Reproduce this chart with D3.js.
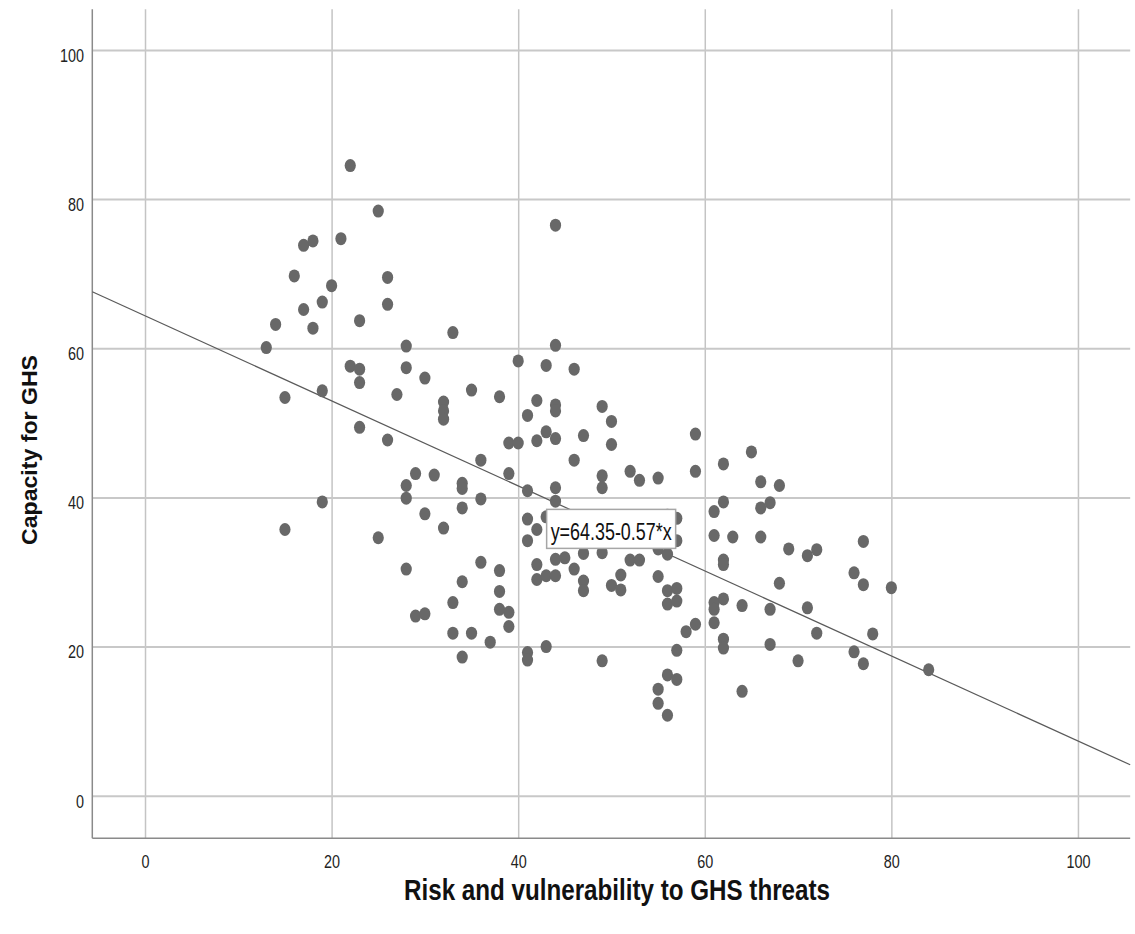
<!DOCTYPE html>
<html><head><meta charset="utf-8">
<script src="https://cdn.jsdelivr.net/npm/d3@7"></script>
<style>body{margin:0;background:#fff}</style>
</head><body><svg id="c" width="1135" height="934"></svg>
<script>
const risk = [22,25,17,18,21,16,26,20,19,17,26,14,18,23,33,13,28,22,23,28,23,30,19,15,27,32,32,32,35,23,26,29,31,28,34,34,28,19,30,34,15,25,32,28,34,33,29,30,33,35,34,
44,44,40,43,46,38,42,44,44,49,50,41,43,44,42,39,40,47,50,36,46,39,49,49,41,44,44,36,41,42,41,36,38,42,44,45,47,49,46,42,43,44,47,47,50,51,38,38,39,39,37,41,41,43,49,
59,65,62,59,52,53,55,66,68,62,61,66,67,57,61,63,66,57,62,62,55,56,52,53,51,55,56,57,56,57,68,61,62,61,64,67,59,58,61,62,62,67,57,56,57,55,55,56,64,
69,71,72,77,76,77,80,71,72,78,70,76,77,84,56,43];
const capacity = [84.5,78.4,73.8,74.4,74.7,69.7,69.5,68.4,66.2,65.2,65.9,63.2,62.7,63.7,62.1,60.1,60.3,57.6,57.2,57.4,55.4,56.0,54.3,53.4,53.8,52.8,51.6,50.5,54.4,49.4,47.7,43.2,43.0,41.6,41.9,41.2,39.9,39.4,37.8,38.6,35.7,34.6,35.9,30.4,28.7,25.9,24.1,24.4,21.8,21.8,18.6,
76.5,60.4,58.3,57.7,57.2,53.5,53.0,52.4,51.6,52.2,50.2,51.0,48.8,47.9,47.6,47.3,47.3,48.3,47.1,45.0,45.0,43.2,42.9,41.3,40.9,41.3,39.5,39.8,37.1,35.7,34.2,31.3,30.2,31.0,31.7,31.9,32.5,32.6,30.4,29.0,29.5,29.5,28.8,27.5,28.2,29.6,27.4,25.0,24.6,22.7,20.6,19.2,18.2,20.0,18.1,
48.5,46.1,44.5,43.5,43.5,42.3,42.6,42.1,41.6,39.4,38.1,38.6,39.3,37.2,34.9,34.7,34.7,34.2,31.6,31.0,33.1,32.4,31.6,31.6,27.6,29.4,27.5,27.8,25.7,26.1,28.5,25.9,26.4,25.0,25.5,25.0,23.0,22.0,23.2,21.0,19.8,20.3,19.5,16.2,15.6,14.3,12.4,10.8,14.0,
33.1,32.2,33.0,34.1,29.9,28.3,27.9,25.2,21.8,21.7,18.1,19.3,17.7,16.9,37.6,37.4];
const xTicks = [0,20,40,60,80,100];
const yTicks = [0,20,40,60,80,100];
const fitIntercept = 64.35, fitSlope = -0.57;
const fitLabel = "y=64.35-0.57*x";
const xTitle = "Risk and vulnerability to GHS threats";
const yTitle = "Capacity for GHS";
const labelAnchor = [43.05, 38.4];

const FONT = "'Liberation Sans', Arial, sans-serif";
const m = {left:92.3, right:1130.2, top:9.3, bottom:838.3};
const x = d3.scaleLinear().domain([-5.65,105.6]).range([m.left,m.right]);
const y = d3.scaleLinear().domain([-5.7,105.45]).range([m.bottom,m.top]);
const svg = d3.select("#c");

// grid
const gx = svg.append("g").attr("transform",`translate(0,${m.bottom})`)
  .call(d3.axisBottom(x).tickValues(xTicks).tickSize(-(m.bottom-m.top)).tickFormat(""));
gx.select(".domain").remove();
gx.selectAll("line").attr("stroke","#c4c4c4").attr("stroke-width",1.5);
const gy = svg.append("g").attr("transform",`translate(${m.left},0)`)
  .call(d3.axisLeft(y).tickValues(yTicks).tickSize(-(m.right-m.left)).tickFormat(""));
gy.select(".domain").remove();
gy.selectAll("line").attr("stroke","#c8c8c8").attr("stroke-width",2);

// axis lines
svg.append("line").attr("x1",m.left).attr("x2",m.left).attr("y1",m.top).attr("y2",m.bottom)
  .attr("stroke","#8a8a8a").attr("stroke-width",1.5);
svg.append("line").attr("x1",m.left).attr("x2",m.right).attr("y1",m.bottom).attr("y2",m.bottom)
  .attr("stroke","#8a8a8a").attr("stroke-width",1.5);

// tick labels
const xa = svg.append("g").attr("transform",`translate(0,${m.bottom})`)
  .call(d3.axisBottom(x).tickValues(xTicks).tickSize(0).tickPadding(0));
xa.select(".domain").remove();
xa.selectAll("text").attr("y",29.7).attr("dy",null).attr("transform","scale(0.8,1)")
  .attr("font-family",FONT).attr("font-size",18).attr("fill","#222");
const ya = svg.append("g").attr("transform",`translate(${m.left},0)`)
  .call(d3.axisLeft(y).tickValues(yTicks).tickSize(0).tickPadding(0));
ya.select(".domain").remove();
ya.selectAll("text").attr("x",-8.3/0.8).attr("y",11.3).attr("dy",null).attr("transform","scale(0.8,1)")
  .attr("font-family",FONT).attr("font-size",18).attr("fill","#222").attr("text-anchor","end");

// fit line
const [x0,x1] = x.domain();
svg.append("line").attr("x1",x(x0)).attr("y1",y(fitIntercept+fitSlope*x0))
  .attr("x2",x(x1)).attr("y2",y(fitIntercept+fitSlope*x1))
  .attr("stroke","#5a5a5a").attr("stroke-width",1.2);

// points
svg.append("g").selectAll("ellipse").data(d3.range(risk.length)).join("ellipse")
  .attr("cx",i=>x(risk[i])).attr("cy",i=>y(capacity[i]))
  .attr("rx",5.6).attr("ry",6.5).attr("fill","#686868");

// fit label
const lg = svg.append("g").attr("transform",`translate(${x(labelAnchor[0])},${y(labelAnchor[1])})`);
lg.append("rect").attr("width",129).attr("height",39).attr("fill","#fff")
  .attr("stroke","#a6a6a6").attr("stroke-width",1.5);
lg.append("text").attr("x",4).attr("y",30.2).attr("font-family",FONT).attr("font-size",24)
  .attr("textLength",121).attr("lengthAdjust","spacingAndGlyphs").attr("fill","#111").text(fitLabel);

// titles
svg.append("text").attr("x",617).attr("y",900).attr("text-anchor","middle")
  .attr("font-family",FONT).attr("font-weight","bold").attr("font-size",29)
  .attr("textLength",426).attr("lengthAdjust","spacingAndGlyphs").attr("fill","#111").text(xTitle);
svg.append("text").attr("transform","translate(37,450) scale(0.95,1) rotate(-90)").attr("text-anchor","middle")
  .attr("font-family",FONT).attr("font-weight","bold").attr("font-size",24)
  .attr("textLength",190).attr("lengthAdjust","spacingAndGlyphs").attr("fill","#111").text(yTitle);
</script></body></html>
